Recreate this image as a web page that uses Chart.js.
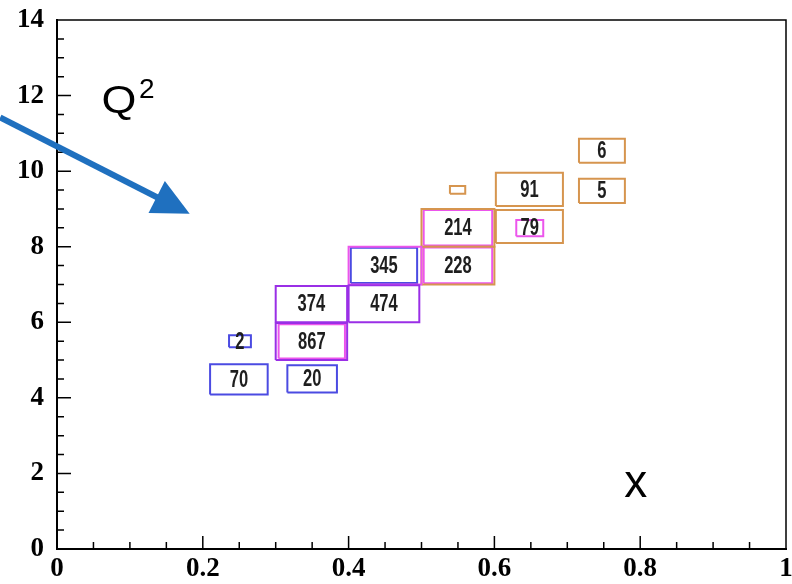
<!DOCTYPE html>
<html>
<head>
<meta charset="utf-8">
<script src="https://cdn.jsdelivr.net/npm/chart.js@4.4.1/dist/chart.umd.min.js"></script>
<style>
  html, body { margin: 0; padding: 0; background: #fff; }
  canvas { display: block; }
</style>
</head>
<body>
<canvas id="chart" width="792" height="584"></canvas>
<script>
// Bin boxes in (x, Q^2), back to front
const boxGroup = ['blue', 'blue', 'blue', 'purple', 'magenta', 'purple', 'purple', 'magenta', 'blue',
                  'orange', 'magenta', 'orange', 'magenta', 'orange', 'orange', 'orange', 'magenta', 'orange', 'orange'];
const boxXMin  = [0.210, 0.316, 0.236, 0.300, 0.304, 0.300, 0.400, 0.400, 0.403,
                  0.500, 0.503, 0.500, 0.503, 0.539, 0.602, 0.602, 0.630, 0.716, 0.716];
const boxXMax  = [0.289, 0.384, 0.266, 0.398, 0.395, 0.398, 0.497, 0.500, 0.494,
                  0.600, 0.597, 0.600, 0.597, 0.560, 0.694, 0.694, 0.667, 0.779, 0.779];
const boxYMin  = [4.09, 4.14, 5.34, 5.00, 5.04, 6.00, 6.00, 7.00, 7.04,
                  7.00, 7.03, 8.00, 8.03, 9.40, 9.08, 8.10, 8.28, 10.22, 9.16];
const boxYMax  = [4.89, 4.86, 5.66, 5.98, 5.95, 6.96, 6.98, 8.00, 7.97,
                  8.00, 7.98, 9.00, 8.97, 9.61, 9.96, 8.97, 8.71, 10.86, 9.80];
const boxCount = ['70', '20', '2', '', '867', '374', '474', '', '345',
                  '', '228', '', '214', '', '91', '', '79', '6', '5'];

const xTicks = [0, 0.2, 0.4, 0.6, 0.8, 1];
const yTicks = [0, 2, 4, 6, 8, 10, 12, 14];

// arrow annotation (data coords), from left edge to head tip
const arrowFrom = { x: -0.078, y: 11.42 };
const arrowTo = { x: 0.182, y: 8.87 };

const groupColors = {
  blue: '#4b4be2',
  purple: '#9a2fe6',
  magenta: '#ec55ec',
  orange: '#d6954f'
};

const datasets = boxGroup.map((g, i) => ({
  data: [
    { x: boxXMin[i], y: boxYMin[i] },
    { x: boxXMax[i], y: boxYMin[i] },
    { x: boxXMax[i], y: boxYMax[i] },
    { x: boxXMin[i], y: boxYMax[i] },
    { x: boxXMin[i], y: boxYMin[i] }
  ],
  showLine: true,
  borderColor: groupColors[g],
  borderWidth: 2,
  pointRadius: 0,
  tension: 0,
  fill: false
}));

const decorPlugin = {
  id: 'decor',
  afterDraw(chart) {
    const ctx = chart.ctx;
    const xs = chart.scales.x, ys = chart.scales.y;
    const a = chart.chartArea;
    ctx.save();

    // top and right frame
    ctx.strokeStyle = '#000';
    ctx.lineWidth = 1.5;
    ctx.beginPath();
    ctx.moveTo(a.left, a.top);
    ctx.lineTo(a.right, a.top);
    ctx.lineTo(a.right, a.bottom);
    ctx.stroke();

    // inward ticks
    ctx.lineWidth = 1.5;
    ctx.beginPath();
    for (let i = 1; i < 20; i++) {
      const px = xs.getPixelForValue(i * 0.05);
      const len = i % 4 === 0 ? 13 : 7;
      ctx.moveTo(px, a.bottom);
      ctx.lineTo(px, a.bottom - len);
    }
    for (let i = 1; i < 28; i++) {
      const py = ys.getPixelForValue(i * 0.5);
      const len = i % 4 === 0 ? 14 : 7;
      ctx.moveTo(a.left, py);
      ctx.lineTo(a.left + len, py);
    }
    ctx.stroke();

    // counts inside boxes
    ctx.fillStyle = '#1e1e1e';
    ctx.font = 'bold 23px "Liberation Sans", Arial, sans-serif';
    ctx.textAlign = 'center';
    ctx.textBaseline = 'middle';
    boxCount.forEach((txt, i) => {
      if (!txt) return;
      const cx = xs.getPixelForValue((boxXMin[i] + boxXMax[i]) / 2);
      const cy = ys.getPixelForValue((boxYMin[i] + boxYMax[i]) / 2);
      ctx.save();
      ctx.translate(cx, cy + 1);
      ctx.scale(0.72, 1);
      ctx.fillText(txt, 0, 0);
      ctx.restore();
    });

    // axis captions
    ctx.fillStyle = '#000';
    ctx.textAlign = 'left';
    ctx.textBaseline = 'alphabetic';
    ctx.save();
    ctx.translate(xs.getPixelForValue(0.061), ys.getPixelForValue(11.55));
    ctx.scale(1.15, 1);
    ctx.font = '39px "Liberation Sans", Arial, sans-serif';
    ctx.fillText('Q', 0, 0);
    ctx.restore();
    ctx.font = '28px "Liberation Sans", Arial, sans-serif';
    ctx.fillText('2', xs.getPixelForValue(0.1125), ys.getPixelForValue(11.93));
    ctx.font = '46px "Liberation Sans", Arial, sans-serif';
    ctx.fillText('x', xs.getPixelForValue(0.778), ys.getPixelForValue(1.38));

    // blue arrow
    const x0 = xs.getPixelForValue(arrowFrom.x), y0 = ys.getPixelForValue(arrowFrom.y);
    const x1 = xs.getPixelForValue(arrowTo.x), y1 = ys.getPixelForValue(arrowTo.y);
    const dx = x1 - x0, dy = y1 - y0;
    const d = Math.hypot(dx, dy);
    const ux = dx / d, uy = dy / d;
    const headLen = 37, headHalf = 18;
    const bx = x1 - ux * headLen, by = y1 - uy * headLen;
    ctx.strokeStyle = '#1f70bf';
    ctx.fillStyle = '#1f70bf';
    ctx.lineWidth = 6;
    ctx.beginPath();
    ctx.moveTo(x0, y0);
    ctx.lineTo(bx + ux * 2, by + uy * 2);
    ctx.stroke();
    ctx.beginPath();
    ctx.moveTo(x1, y1);
    ctx.lineTo(bx - uy * headHalf, by + ux * headHalf);
    ctx.lineTo(bx + uy * headHalf, by - ux * headHalf);
    ctx.closePath();
    ctx.fill();

    ctx.restore();
  }
};

const tickFont = { family: '"Liberation Serif", "Times New Roman", serif', size: 27, weight: 'bold' };

new Chart(document.getElementById('chart'), {
  type: 'scatter',
  data: { datasets: datasets },
  options: {
    responsive: false,
    animation: false,
    layout: { padding: { top: 20, right: 6, left: 0, bottom: 0 } },
    plugins: {
      legend: { display: false },
      tooltip: { enabled: false }
    },
    scales: {
      x: {
        type: 'linear',
        min: 0,
        max: 1,
        afterBuildTicks(scale) {
          scale.ticks = xTicks.map(v => ({ value: v }));
        },
        afterFit(scale) {
          scale.height = 35;
          scale.paddingLeft = 0;
          scale.paddingRight = 0;
        },
        grid: { display: false, drawTicks: false },
        border: { display: true, color: '#000', width: 2 },
        ticks: {
          color: '#000',
          font: tickFont,
          padding: 4,
          maxRotation: 0,
          autoSkip: false,
          callback: v => (v === 0 || v === 1) ? String(v) : v.toFixed(1)
        }
      },
      y: {
        type: 'linear',
        min: 0,
        max: 14,
        afterBuildTicks(scale) {
          scale.ticks = yTicks.map(v => ({ value: v }));
        },
        afterFit(scale) {
          scale.width = 57;
          scale.paddingTop = 0;
          scale.paddingBottom = 0;
        },
        grid: { display: false, drawTicks: false },
        border: { display: true, color: '#000', width: 2 },
        ticks: {
          color: '#000',
          font: tickFont,
          padding: 13,
          autoSkip: false
        }
      }
    }
  },
  plugins: [decorPlugin]
});
</script>
</body>
</html>
